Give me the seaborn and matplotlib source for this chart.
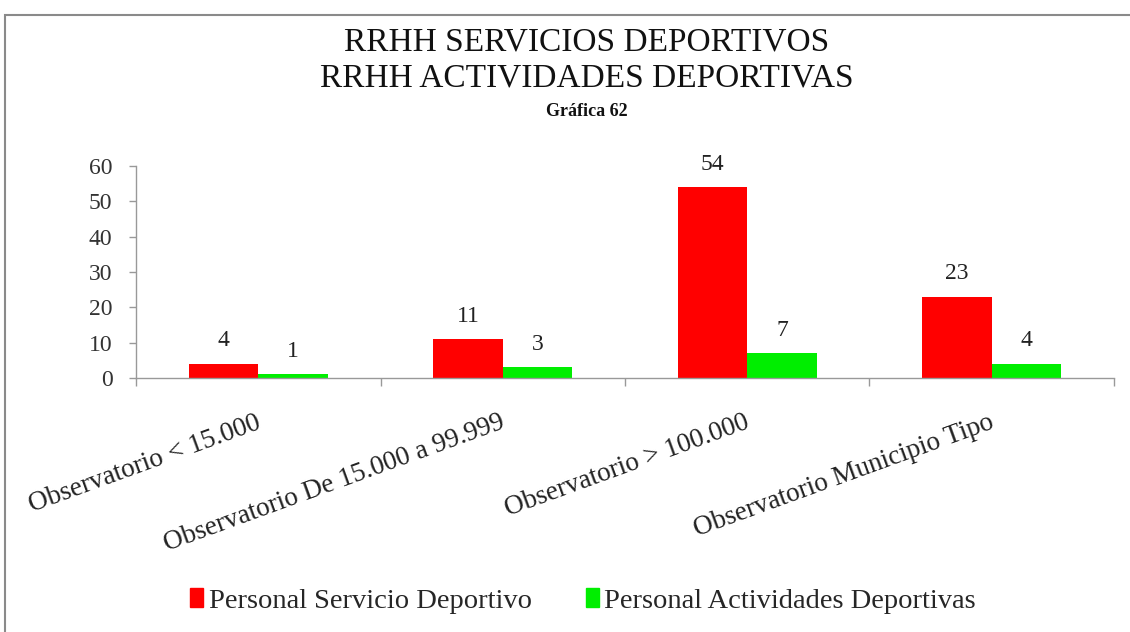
import matplotlib
matplotlib.use("Agg")
import matplotlib.pyplot as plt
import matplotlib.transforms as mtransforms
import seaborn as sns
import pandas as pd
from matplotlib.patches import Rectangle

categories = ["Observatorio < 15.000", "Observatorio De 15.000 a 99.999",
              "Observatorio > 100.000", "Observatorio Municipio Tipo"]
series_names = ["Personal Servicio Deportivo", "Personal Actividades Deportivas"]
servicio = [4, 11, 54, 23]
actividades = [1, 3, 7, 4]
colors = ["#FF0000", "#00EE00"]
yticks = [0, 10, 20, 30, 40, 50, 60]

df = pd.DataFrame({
    "cat": categories * 2,
    "serie": [series_names[0]] * 4 + [series_names[1]] * 4,
    "val": servicio + actividades,
})

sns.set_theme(style="white")
plt.rcParams['font.family'] = ['Liberation Serif', 'DejaVu Serif']

fig = plt.figure(figsize=(11.3, 6.32), dpi=100)
ax = fig.add_axes([136/1130, 1-378/632, (1114-136)/1130, (378-166)/632])

sns.barplot(data=df, x="cat", y="val", hue="serie", palette=colors,
            width=0.57, ax=ax, saturation=1, legend=False, linewidth=0)

for cont in ax.containers:
    ax.bar_label(cont, padding=9, fontsize=17, color="#222222")

ax.set_ylim(0, 60)
ax.set_xlim(-0.5, 3.5)
ax.set_yticks(yticks)
ax.set_yticklabels([str(t) for t in yticks], fontsize=17, color="#333333")
ax.set_xticks(range(len(categories)))
ax.set_xticklabels(categories, rotation=20, ha="right", rotation_mode="anchor",
                   fontsize=19.5, color="#222222")
ax.set_xticks([-0.5, 0.5, 1.5, 2.5, 3.5], minor=True)
ax.tick_params(axis="x", which="major", length=0, pad=23)
ax.tick_params(axis="x", which="minor", length=6, color="#999999", width=1, direction="out", bottom=True)
ax.tick_params(axis="y", length=5, color="#999999", width=1, direction="out", left=True, pad=12)
shift = mtransforms.ScaledTranslation(-0.03, 0, fig.dpi_scale_trans)
for lbl in ax.get_xticklabels():
    lbl.set_transform(lbl.get_transform() + shift)
ax.set_xlabel("")
ax.set_ylabel("")
for s in ["top", "right"]:
    ax.spines[s].set_visible(False)
for s in ["left", "bottom"]:
    ax.spines[s].set_color("#999999")
    ax.spines[s].set_linewidth(1)

fig.text(0.519, 1-42/632, "RRHH SERVICIOS DEPORTIVOS", ha="center", va="center",
         fontsize=24, color="#111111")
fig.text(0.519, 1-78/632, "RRHH ACTIVIDADES DEPORTIVAS", ha="center", va="center",
         fontsize=24, color="#111111")
fig.text(0.519, 1-112/632, "Gráfica 62", ha="center", va="center",
         fontsize=13, fontweight="bold", color="#111111")

handles = [Rectangle((0, 0), 1, 1, color=c) for c in colors]
fig.legend(handles, series_names, loc="center", bbox_to_anchor=(0.516, 1-601/632),
           ncol=2, frameon=False, fontsize=20.5, handlelength=0.45, handleheight=0.6,
           handletextpad=0.2, columnspacing=1.9)

fig.patches.append(Rectangle((5/1130, -0.05), 1.2, 1-15/632+0.05, transform=fig.transFigure,
                             fill=False, edgecolor="#8a8a8a", linewidth=1.5, zorder=0))

fig.savefig("out.png", dpi=100)
